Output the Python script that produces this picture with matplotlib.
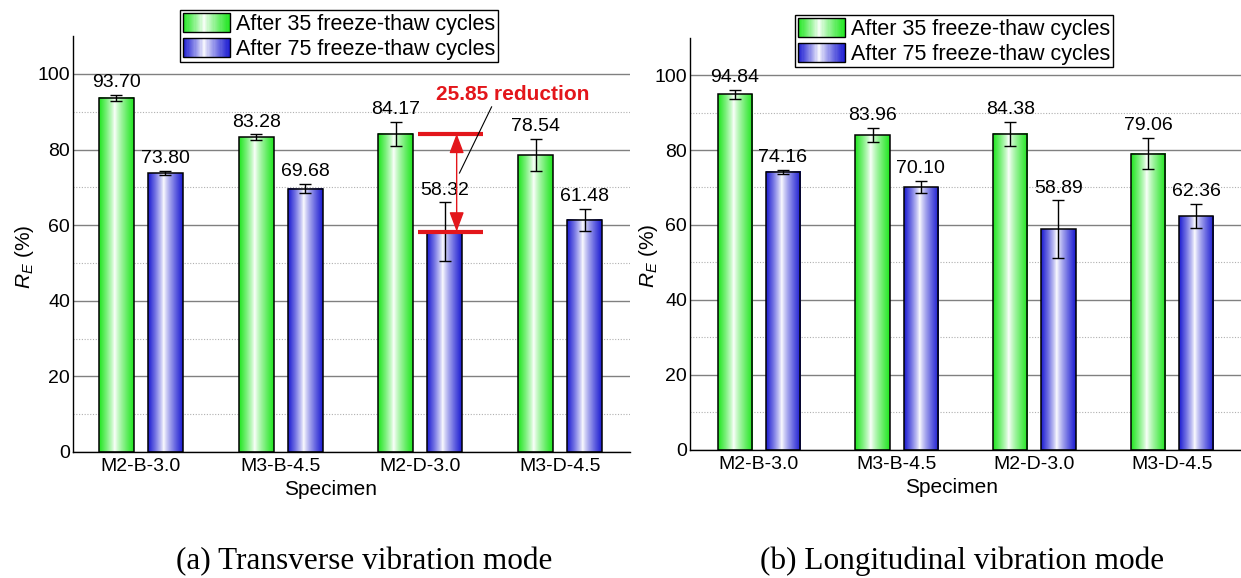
import numpy as np
import matplotlib
matplotlib.use('Agg')
import matplotlib.pyplot as plt
from matplotlib.patches import Rectangle
from matplotlib.legend_handler import HandlerBase
from matplotlib.ticker import FixedLocator

plt.rcParams['font.family'] = ['Liberation Sans', 'DejaVu Sans']
plt.rcParams['mathtext.fontset'] = 'custom'
plt.rcParams['mathtext.rm'] = 'Liberation Sans'
plt.rcParams['mathtext.it'] = 'Liberation Sans:italic'

# ---- data ----
specimens = ['M2-B-3.0', 'M3-B-4.5', 'M2-D-3.0', 'M3-D-4.5']
series_names = ['After 35 freeze-thaw cycles', 'After 75 freeze-thaw cycles']

trans_35 = [93.70, 83.28, 84.17, 78.54]
trans_35_err = [0.75, 0.75, 3.2, 4.3]
trans_75 = [73.80, 69.68, 58.32, 61.48]
trans_75_err = [0.65, 1.2, 7.7, 2.9]

long_35 = [94.84, 83.96, 84.38, 79.06]
long_35_err = [1.2, 1.9, 3.2, 4.1]
long_75 = [74.16, 70.10, 58.89, 62.36]
long_75_err = [0.55, 1.7, 7.7, 3.2]

captions = ['(a) Transverse vibration mode', '(b) Longitudinal vibration mode']

GREEN = (0.12, 0.90, 0.12)
BLUE = (0.10, 0.10, 0.82)
RED = '#e3161b'
BAR_W = 0.25
OFFSET = 0.175
WHITE_AT = 0.45


def gradient(color, n=64):
    """Colour -> white -> colour ramp across a bar."""
    u = (np.arange(n) + 0.5) / n
    t = np.where(u < WHITE_AT, (WHITE_AT - u) / WHITE_AT, (u - WHITE_AT) / (1 - WHITE_AT))
    t = t ** 0.8
    c = np.array(color)
    return (1 - t)[:, None] * np.ones(3) + t[:, None] * c


class GradientHandler(HandlerBase):
    def __init__(self, color):
        super().__init__()
        self.color = color

    def create_artists(self, legend, orig_handle, xdescent, ydescent,
                       width, height, fontsize, trans):
        cols = gradient(self.color, 40)
        n = len(cols)
        arts = []
        for i, c in enumerate(cols):
            r = Rectangle((-xdescent + i * width / n, -ydescent), width / n * 1.05, height,
                          facecolor=c, edgecolor='none', transform=trans)
            arts.append(r)
        arts.append(Rectangle((-xdescent, -ydescent), width, height, facecolor='none',
                              edgecolor='black', lw=1, transform=trans))
        return arts


def grad_bars(ax, xs, vals, color):
    img = gradient(color)[None, :, :]
    for x, v in zip(xs, vals):
        ax.imshow(img, extent=(x - BAR_W / 2, x + BAR_W / 2, 0, v), aspect='auto',
                  interpolation='bilinear', zorder=1.5)
    return ax.bar(xs, vals, BAR_W, facecolor='none', edgecolor='black', lw=1.1, zorder=2)


def panel(ax, v35, e35, v75, e75, xlim):
    x = np.arange(len(specimens))
    h1 = grad_bars(ax, x - OFFSET, v35, GREEN)
    h2 = grad_bars(ax, x + OFFSET, v75, BLUE)
    for xs, vals, errs in [(x - OFFSET, v35, e35), (x + OFFSET, v75, e75)]:
        ax.errorbar(xs, vals, yerr=errs, fmt='none', ecolor='black', elinewidth=1,
                    capsize=4, capthick=1, zorder=3)
        for xi, v, e in zip(xs, vals, errs):
            ax.text(xi, v + e + 1.0, f'{v:.2f}', ha='center', va='bottom', fontsize=14, zorder=4)

    ax.set_xlim(*xlim)
    ax.set_ylim(0, 110)
    ax.yaxis.set_major_locator(FixedLocator([0, 20, 40, 60, 80, 100]))
    ax.yaxis.set_minor_locator(FixedLocator([10, 30, 50, 70, 90]))
    ax.grid(True, which='major', axis='y', color='#808080', lw=1)
    ax.grid(True, which='minor', axis='y', color='#b0b0b0', lw=0.8, ls=(0, (1, 1.5)))
    ax.set_axisbelow(True)
    for s in ['top', 'right']:
        ax.spines[s].set_visible(False)
    for s in ['left', 'bottom']:
        ax.spines[s].set_linewidth(1)
        ax.spines[s].set_zorder(5)
    ax.set_xticks(x)
    ax.set_xticklabels(specimens)
    ax.tick_params(axis='both', which='both', length=0, labelsize=14)
    ax.tick_params(axis='x', pad=4)
    ax.tick_params(axis='y', pad=2)
    ax.set_xlabel('Specimen', fontsize=15)
    ax.set_ylabel(r'$R_E$ (%)', fontsize=15)
    return h1, h2


fig = plt.figure(figsize=(12.41, 5.78), dpi=100)
ax1 = fig.add_axes([0.0588, 0.2180, 0.4488, 0.7194])
ax2 = fig.add_axes([0.5560, 0.2215, 0.4440, 0.7136])

h1, h2 = panel(ax1, trans_35, trans_35_err, trans_75, trans_75_err, (-0.486, 3.5))
panel(ax2, long_35, long_35_err, long_75, long_75_err, (-0.5, 3.5))

ax1.xaxis.set_label_coords(0.463, -0.067)
ax2.xaxis.set_label_coords(0.4755, -0.068)
ax1.yaxis.set_label_coords(-0.066, 0.47)
ax2.yaxis.set_label_coords(-0.054, 0.47)

# reduction marker on the M2-D-3.0 group
ax1.hlines([trans_35[2], trans_75[2]], 1.98, 2.45, color=RED, lw=3, zorder=4)
ax1.annotate('', xy=(2.26, trans_75[2]), xytext=(2.26, trans_35[2]),
             arrowprops=dict(arrowstyle='<|-|>,head_length=0.8,head_width=0.3',
                             color=RED, lw=1, mutation_scale=15, shrinkA=0, shrinkB=0),
             zorder=4)
ax1.plot([2.51, 2.28], [91.3, 73.8], color='black', lw=0.8, zorder=4)
ax1.text(2.66, 94.6, f'{trans_35[2] - trans_75[2]:.2f} reduction', color=RED,
         fontsize=15, fontweight='bold', ha='center', va='center', zorder=4)

# legends
for ax, anchor in [(ax1, (180 / 1241, 1 - 10 / 578)), (ax2, (795 / 1241, 1 - 15 / 578))]:
    leg = ax.legend([h1, h2], series_names, loc='upper left', bbox_to_anchor=anchor,
                    bbox_transform=fig.transFigure, fontsize=15.5, frameon=True,
                    fancybox=False, framealpha=1, edgecolor='black', borderaxespad=0,
                    borderpad=0.12, labelspacing=0.15, handlelength=2.2, handleheight=1.0,
                    handletextpad=0.3,
                    handler_map={h1: GradientHandler(GREEN), h2: GradientHandler(BLUE)})
    leg.get_frame().set_linewidth(1)
    leg.set_zorder(10)

# panel captions
for xc, cap in zip([364, 962], captions):
    fig.text(xc / 1241, 1 - 569 / 578, cap, ha='center', va='baseline',
             fontsize=22.5, family=['Liberation Serif', 'DejaVu Serif'])

fig.savefig('out.png', dpi=100, facecolor='white')
